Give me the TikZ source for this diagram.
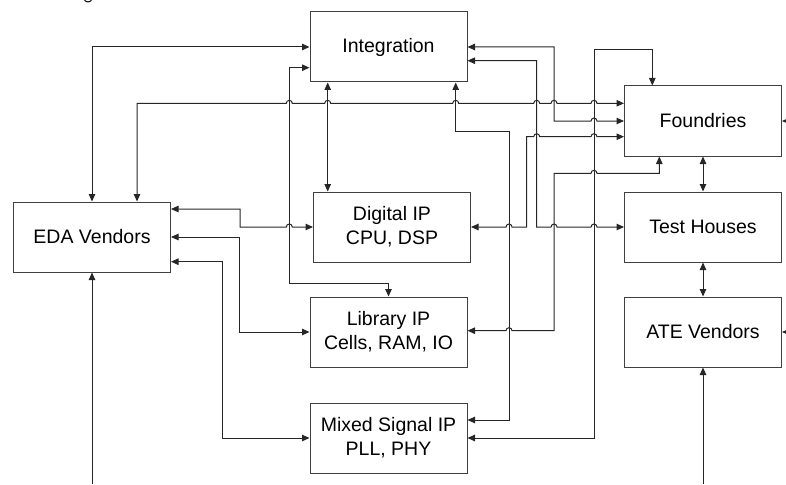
\documentclass[tikz,border=0pt]{standalone}
\usepackage{fontspec}
\setmainfont{Liberation Sans}
\usetikzlibrary{arrows.meta}

% small semicircular hop where a horizontal run jumps over a vertical one
\newcommand\hp[2]{-- (#1-3,#2) arc[start angle=180,end angle=0,radius=3pt]}

\tikzset{
  box/.style={draw=black!75, line width=1pt, minimum width=157pt,
    minimum height=70pt, inner sep=0pt, align=center,
    font=\fontsize{19.5}{24}\selectfont},
  link/.style={draw=black!85, line width=1pt},
  tip/.tip={Triangle[length=7.5pt,width=6.5pt]},
  two/.style={link, tip-tip},
  one/.style={link, -tip},
}

\begin{document}
\begin{tikzpicture}[x=1pt,y=-1pt]
\useasboundingbox (0,0) rectangle (786,484);

% blocks
\node[box] (integ)   at (388.5,47)  {Integration};
\node[box] (digital) at (392,227)   {Digital IP\\CPU, DSP};
\node[box] (eda)     at (92,237)    {EDA Vendors};
\node[box] (library) at (388.5,332) {Library IP\\Cells, RAM, IO};
\node[box] (mixed)   at (388.5,438) {Mixed Signal IP\\PLL, PHY};
\node[box] (found)   at (703,121)   {Foundries};
\node[box] (test)    at (703,227)   {Test Houses};
\node[box] (ate)     at (703,332)   {ATE Vendors};

% free ends at the picture border
\coordinate (edaIn)   at (92,484);
\coordinate (ateIn)   at (703,484);
\coordinate (foundIn) at (786,121);
\coordinate (ateSide) at (786,332);

% EDA vendors links
\draw[two] (eda.north) |- (integ.west);
\draw[two] ([xshift=45pt]eda.north) -- (137,103.3)
  \hp{289.3}{103.3} \hp{327.7}{103.3} \hp{455.7}{103.3}
  \hp{536.7}{103.3} \hp{554}{103.3} \hp{594}{103.3}
  -- (found.west |- 0,103.3);
\draw[two] (eda.east |- 0,209) -| (240,227) \hp{289.3}{227} -- (digital.west);
\draw[two] (eda.east) -| (239.3,332) -- (library.west);
\draw[two] (eda.east |- 0,261.7) -| (222.7,438) -- (mixed.west);
\draw[one] (edaIn) -- (eda.south);

% integration links
\draw[two] (integ.west |- 0,67.7) -- (289.3,67.7) |- (388.5,283.3) -- (library.north);
\draw[two] (integ.south -| 327.7,0) -- (digital.north -| 327.7,0);
\draw[two] (integ.south -| 455.7,0) |- (509,131) |- (mixed.east |- 0,420);
\draw[two] (integ.east) -| (554,121) \hp{594}{121} -- (found.west);
\draw[two] (integ.east |- 0,60.7) -| (536.7,227) \hp{554}{227} \hp{594}{227} -- (test.west);

% IP blocks to the foundries
\draw[two] (digital.east) \hp{509}{227} -| (526.7,136.7)
  \hp{536.7}{136.7} \hp{594}{136.7} -- (found.west |- 0,136.7);
\draw[two] (library.east |- 0,330.7) \hp{509}{330.7} -| (554,173.3)
  \hp{594}{173.3} -| (found.south -| 659.3,0);
\draw[two] (mixed.east) -| (594,50) -| (found.north -| 652.3,0);

% manufacturing chain
\draw[two] (found.south) -- (test.north);
\draw[two] (test.south) -- (ate.north);
\draw[one] (ateIn) -- (ate.south);
\draw[one] (foundIn) -- (found.east);
\draw[one] (ateSide) -- (ate.east);

% descender of a heading cut at the top edge
\draw[line width=1pt] (84.5,0) .. controls (86,2.6) and (90,2.6) .. (91.5,0);
\end{tikzpicture}
\end{document}
